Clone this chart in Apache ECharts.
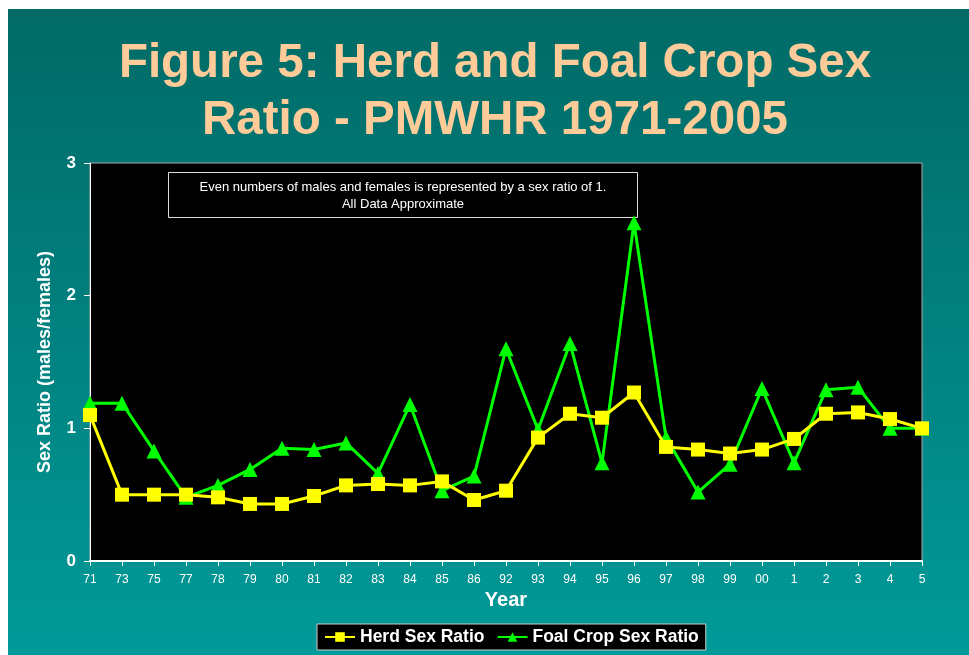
<!DOCTYPE html>
<html>
<head>
<meta charset="utf-8">
<script src="https://cdn.jsdelivr.net/npm/echarts@6/dist/echarts.min.js"></script>
<style>
html,body{margin:0;padding:0;background:#fff;}
#wrap{position:absolute;left:8px;top:9px;width:961px;height:646px;background:linear-gradient(to bottom,#016a66 0%,#017f7d 45%,#009a98 100%);}
#chart{position:absolute;left:0;top:0;width:969px;height:655px;}
</style>
</head>
<body>
<div id="wrap"></div>
<div id="chart"></div>
<script>
var years = ['71','73','75','77','78','79','80','81','82','83','84','85','86','92','93','94','95','96','97','98','99','00','1','2','3','4','5'];
var herdRatio = [1.10,0.50,0.50,0.50,0.48,0.43,0.43,0.49,0.57,0.58,0.57,0.60,0.46,0.53,0.93,1.11,1.08,1.27,0.86,0.84,0.81,0.84,0.92,1.11,1.12,1.07,1.00];
var foalRatio = [1.19,1.19,0.83,0.48,0.57,0.69,0.85,0.84,0.89,0.66,1.18,0.53,0.64,1.60,0.99,1.64,0.74,2.55,0.93,0.52,0.73,1.30,0.74,1.29,1.31,1.00,1.00];
var yTicks = [0,1,2,3];
var titleLines = ['Figure 5: Herd and Foal Crop Sex', 'Ratio - PMWHR 1971-2005'];

var chart = echarts.init(document.getElementById('chart'), null, {renderer:'canvas'});
var font = 'Liberation Sans, Arial, sans-serif';
var titleStyle = function (t) {
  return {text: t, fill: '#FFCC99', font: 'bold 47.5px ' + font, textAlign: 'center', textVerticalAlign: 'middle',
    shadowColor: '#000', shadowOffsetX: 3, shadowOffsetY: 3, shadowBlur: 0};
};
chart.setOption({
  backgroundColor: 'transparent',
  grid: {left: 90, right: 47, top: 163, bottom: 94, show: true, backgroundColor: '#000', borderColor: '#aaa', borderWidth: 1},
  legend: {
    bottom: 5, left: 317,
    backgroundColor: '#000', borderColor: '#ccc', borderWidth: 1, padding: [4, 7],
    itemWidth: 30, itemHeight: 12, itemGap: 12,
    textStyle: {color: '#fff', fontFamily: font, fontWeight: 'bold', fontSize: 17.5}
  },
  xAxis: {
    type: 'category', data: years, boundaryGap: false,
    name: 'Year', nameLocation: 'middle', nameGap: 29,
    nameTextStyle: {color: '#fff', fontFamily: font, fontWeight: 'bold', fontSize: 20},
    axisLine: {lineStyle: {color: '#fff', width: 2}},
    axisTick: {show: true, alignWithLabel: true, length: 5, lineStyle: {color: '#fff'}},
    axisLabel: {color: '#fff', fontFamily: font, fontSize: 12, margin: 13, interval: 0}
  },
  yAxis: {
    type: 'value', min: yTicks[0], max: yTicks[yTicks.length-1], interval: 1,
    name: 'Sex Ratio (males/females)', nameLocation: 'middle', nameGap: 36, nameRotate: 90,
    nameTextStyle: {color: '#fff', fontFamily: font, fontWeight: 'bold', fontSize: 18},
    axisLine: {show: true, lineStyle: {color: '#fff', width: 1}},
    axisTick: {show: true, length: 6, lineStyle: {color: '#fff'}},
    axisLabel: {color: '#fff', fontFamily: font, fontWeight: 'bold', fontSize: 17, margin: 14},
    splitLine: {show: false}
  },
  graphic: [
    {type: 'text', x: 495, y: 64, style: titleStyle(titleLines[0])},
    {type: 'text', x: 495, y: 121, style: titleStyle(titleLines[1])},
    {
    type: 'group', left: 168, top: 172,
    children: [
      {type: 'rect', shape: {x: 0, y: 0, width: 469, height: 45}, style: {fill: '#000', stroke: '#ddd', lineWidth: 1}},
      {type: 'text', x: 234.5, y: 6, style: {text: 'Even numbers of males and females is represented by a sex ratio of 1.\nAll Data Approximate', fill: '#fff', font: '13px ' + font, textAlign: 'center', lineHeight: 17}}
    ]
  }],
  series: [
    {name: 'Herd Sex Ratio', type: 'line', data: herdRatio, symbol: 'rect', symbolSize: 14,
     lineStyle: {color: '#FFFF00', width: 3}, itemStyle: {color: '#FFFF00'}, z: 3},
    {name: 'Foal Crop Sex Ratio', type: 'line', data: foalRatio, symbol: 'triangle', symbolSize: 15,
     lineStyle: {color: '#00FF00', width: 3}, itemStyle: {color: '#00FF00'}, z: 2}
  ]
});
</script>
</body>
</html>
